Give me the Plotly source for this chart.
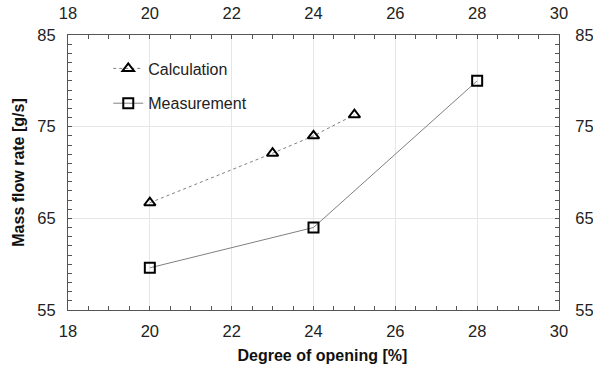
import plotly.graph_objects as go

# Degree of opening [%] and mass flow rate [g/s]
calc_opening = [20, 23, 24, 25]
calc_flow = [66.7, 72.1, 74.0, 76.3]

meas_opening = [20, 24, 28]
meas_flow = [59.6, 64.0, 80.0]

x_range = [18, 30]
y_range = [55, 85]

FONT = "Liberation Sans, Arial, sans-serif"
AXIS_COLOR = "#555555"
GRID_COLOR = "#e6e6e6"
LINE_GRAY = "#808080"

fig = go.Figure()

fig.add_trace(go.Scatter(
    x=calc_opening, y=calc_flow, name="Calculation",
    mode="lines+markers", legendgroup="calc",
    line=dict(color=LINE_GRAY, width=1, dash="dot"),
    marker=dict(symbol="triangle-up-open", size=10, color="black",
                line=dict(width=2, color="black")),
))
fig.add_trace(go.Scatter(
    x=meas_opening, y=meas_flow, name="Measurement",
    mode="lines+markers", legendgroup="meas",
    line=dict(color=LINE_GRAY, width=1),
    marker=dict(symbol="square-open", size=10, color="black",
                line=dict(width=2, color="black")),
))
# empty trace so the top/right label axes get a subplot
fig.add_trace(go.Scatter(x=[], y=[], xaxis="x2", yaxis="y2",
                         showlegend=False, hoverinfo="skip"))

tick_font = dict(family=FONT, size=16.5, color="#222222")
title_font = dict(family=FONT, size=16, color="#111111", weight="bold")

common_x = dict(range=x_range, dtick=2, tick0=18, ticks="inside", ticklen=4,
                tickcolor=AXIS_COLOR, tickfont=tick_font, automargin=False,
                showline=True, linecolor=AXIS_COLOR, linewidth=1,
                zeroline=False,
                minor=dict(dtick=0.5, ticks="inside", ticklen=4,
                           tickcolor=AXIS_COLOR, showgrid=False))
common_y = dict(range=y_range, dtick=10, tick0=55, ticks="inside", ticklen=4,
                tickcolor=AXIS_COLOR, tickfont=tick_font, automargin=False,
                showline=True, linecolor=AXIS_COLOR, linewidth=1,
                zeroline=False,
                minor=dict(dtick=1, ticks="inside", ticklen=4,
                           tickcolor=AXIS_COLOR, showgrid=False))

fig.update_layout(
    width=593, height=366,
    margin=dict(l=68, r=34, t=35, b=56),
    paper_bgcolor="white", plot_bgcolor="white",
    showlegend=True,
    legend=dict(x=0.082, y=0.94, xanchor="left", yanchor="top",
                font=dict(family=FONT, size=16, color="#222222"),
                bgcolor="rgba(0,0,0,0)", tracegroupgap=11),
    xaxis=dict(**common_x, showgrid=True, gridcolor=GRID_COLOR, gridwidth=1,
               ticklabelstandoff=6,
               title=dict(text="&#160;&#160;&#160;&#160;Degree of opening [%]",
                          font=title_font, standoff=11)),
    yaxis=dict(**common_y, showgrid=True, gridcolor=GRID_COLOR, gridwidth=1,
               ticklabelstandoff=8,
               title=dict(text="Mass flow rate [g/s]", font=title_font,
                          standoff=8)),
    xaxis2=dict(**common_x, overlaying="x", side="top", anchor="y",
                matches="x", showgrid=False, ticklabelstandoff=8),
    yaxis2=dict(**common_y, overlaying="y", side="right", anchor="x",
                matches="y", showgrid=False, ticklabelstandoff=12),
)

fig.write_html("out.html")
